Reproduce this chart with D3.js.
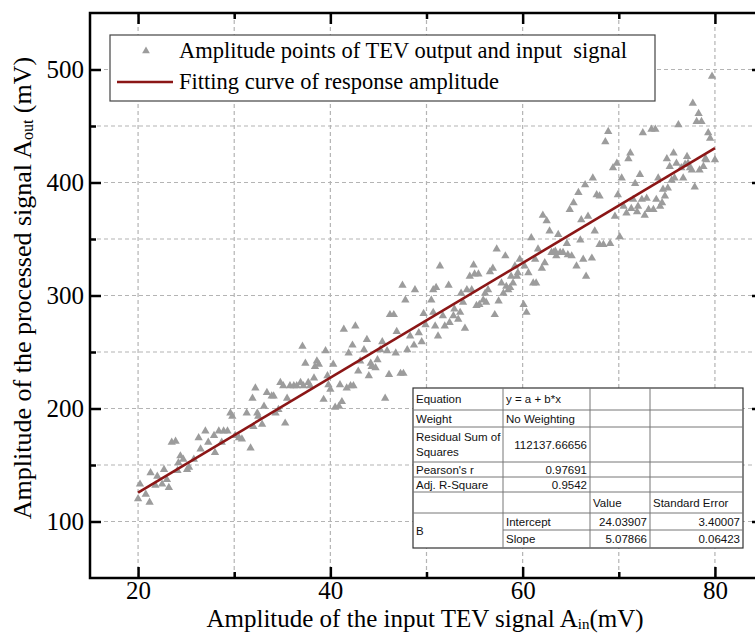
<!DOCTYPE html>
<html>
<head>
<meta charset="utf-8">
<script src="https://cdn.jsdelivr.net/npm/d3@7"></script>
<style>
  body { margin: 0; background: #fff; }
  svg { display: block; }
</style>
</head>
<body>
<svg width="755" height="633"></svg>
<script>
// input amplitude (mV) of each measured point
const ain = [
  20.2,21.3,20.0,20.8,21.2,22.0,22.7,21.8,22.5,23.2,23.0,23.5,23.9,24.4,24.2,24.7,25.1,24.1,25.3,25.8,
  26.3,26.5,27.0,27.3,27.9,28.0,28.4,28.9,29.3,28.7,29.6,29.8,30.1,30.5,30.8,31.3,31.7,32.0,32.4,32.2,
  31.9,32.5,32.9,33.1,33.4,33.9,34.1,34.3,34.6,34.8,35.1,35.3,35.5,35.8,36.2,36.5,36.9,37.1,37.2,37.4,
  37.7,37.9,38.3,38.4,38.6,38.8,39.3,39.5,39.7,39.8,40.0,40.3,40.5,40.9,41.0,41.2,41.4,41.7,41.9,42.1,
  42.4,42.6,42.3,42.9,43.1,43.5,43.8,44.0,44.2,44.3,44.7,44.9,45.2,45.4,45.7,45.9,46.1,46.2,46.6,46.8,
  46.9,47.3,47.5,47.6,47.8,48.0,48.3,48.7,48.8,49.2,49.5,49.7,49.9,
  50.7,51.0,51.4,52.3,50.7,50.5,50.9,51.2,51.7,51.9,52.4,52.8,52.9,53.3,53.5,53.6,53.8,54.0,54.2,54.5,
  54.7,54.9,55.0,55.4,55.2,55.5,55.9,56.1,56.2,56.4,56.6,56.9,57.1,57.3,57.5,57.8,58.0,58.2,58.3,58.5,
  58.7,58.8,59.0,59.2,59.4,59.5,59.7,60.1,60.2,60.4,60.6,60.9,61.1,61.3,61.4,61.6,62.0,62.1,62.3,62.5,
  62.8,63.0,63.2,63.4,63.5,63.7,63.9,64.2,64.6,64.7,64.9,65.1,65.3,65.6,65.8,66.0,66.1,66.3,66.5,66.6,
  66.8,67.2,67.3,67.5,67.7,68.0,68.0,68.4,68.6,68.9,69.1,69.4,69.6,69.8,69.9,70.1,70.3,70.5,70.8,71.0,
  71.2,71.3,71.5,71.7,71.9,72.0,72.2,72.4,72.5,72.7,72.9,73.1,73.4,73.8,73.6,73.9,74.1,74.3,74.5,74.6,
  74.8,75.0,75.1,75.3,75.5,75.7,75.8,76.0,76.2,76.5,76.7,76.9,77.1,77.2,77.4,77.6,77.7,77.9,78.1,78.3,
  78.4,78.6,78.8,79.0,79.1,79.3,79.5,79.7,80.0
];
// processed (output) amplitude (mV), same order
const aout = [
  133,143,120,124,117,140,146,132,133,130,137,170,171,158,152,155,146,145,148,155,
  174,164,180,170,176,161,180,180,180,170,196,193,176,174,173,196,165,184,196,218,
  209,193,186,202,214,211,211,196,199,223,220,187,209,220,220,220,223,255,220,240,
  223,220,227,237,242,239,208,251,229,221,217,239,201,202,221,206,270,218,249,220,
  220,273,256,233,242,252,261,229,240,237,236,243,252,259,209,251,230,283,283,249,
  268,231,309,231,296,252,264,256,305,267,259,284,274,
  305,307,326,309,285,296,273,264,282,273,276,282,288,279,285,302,294,271,305,317,
  305,327,319,319,291,292,296,302,294,305,321,324,283,341,295,311,302,335,308,305,
  307,317,311,326,317,320,332,292,326,285,320,351,311,332,311,341,324,371,329,366,
  357,338,338,339,335,354,338,338,346,336,376,335,382,326,391,349,367,332,398,317,
  370,333,404,357,389,388,345,345,436,445,346,413,370,417,389,352,404,379,373,421,
  426,377,385,399,374,379,407,385,444,371,386,376,447,447,376,385,404,379,382,394,
  388,421,395,414,402,426,404,417,451,413,404,416,423,417,413,411,470,396,454,461,
  411,454,414,421,420,444,439,494,420
];

const fitIntercept = 24.03907;
const fitSlope = 5.07866;
const fitRange = [20, 80];

const xTicks = [20, 40, 60, 80];
const xMinor = [30, 50, 70];
const xGrid = [20, 30, 40, 50, 60, 70, 80];
const yTicks = [100, 200, 300, 400, 500];
const yMinor = [150, 250, 350, 450];
const yGrid = [100, 150, 200, 250, 300, 350, 400, 450, 500];

const legendLabels = ["Amplitude points of TEV output and input  signal", "Fitting curve of response amplitude"];

const tableRows = [
  ["Equation", "y = a + b*x", "", ""],
  ["Weight", "No Weighting", "", ""],
  ["Residual Sum of|Squares", "112137.66656", "", ""],
  ["Pearson's r", "0.97691", "", ""],
  ["Adj. R-Square", "0.9542", "", ""],
  ["", "", "Value", "Standard Error"],
  ["B", "Intercept", "24.03907", "3.40007"],
  ["", "Slope", "5.07866", "0.06423"]
];

const svg = d3.select("svg");
const serif = "'Liberation Serif', 'Times New Roman', serif";
const sans = "'Liberation Sans', Arial, sans-serif";

const pLeft = 90, pRight = 763, pTop = 13, pBottom = 578;
const x = d3.scaleLinear().domain([15, 85]).range([pLeft, pRight]);
const y = d3.scaleLinear().domain([50, 550]).range([pBottom, pTop]);

const plot = svg.append("g");

// dashed grid
plot.append("g").selectAll("line").data(xGrid).enter().append("line")
  .attr("x1", d => x(d)).attr("x2", d => x(d))
  .attr("y1", pTop).attr("y2", pBottom)
  .attr("stroke", "#b4b4b4").attr("stroke-width", 1.2).attr("stroke-dasharray", "4,3");
plot.append("g").selectAll("line").data(yGrid).enter().append("line")
  .attr("x1", pLeft).attr("x2", pRight)
  .attr("y1", d => y(d)).attr("y2", d => y(d))
  .attr("stroke", "#b4b4b4").attr("stroke-width", 1.2).attr("stroke-dasharray", "4,3");

// points
const points = ain.map((a, i) => ({ a: a, b: aout[i] }));
const tri = d3.symbol().type(d3.symbolTriangle).size(30);
plot.append("g").selectAll("path").data(points).enter().append("path")
  .attr("d", tri)
  .attr("transform", d => `translate(${x(d.a)},${y(d.b)})`)
  .attr("fill", "#9c9c9c");

// fitted line
const fitLine = d3.line().x(d => x(d)).y(d => y(fitIntercept + fitSlope * d));
plot.append("path").datum(fitRange)
  .attr("d", fitLine)
  .attr("fill", "none")
  .attr("stroke", "#8b1616")
  .attr("stroke-width", 2.6);

// axes
const styleAxis = g => {
  g.select(".domain").remove();
  g.selectAll(".tick line").attr("stroke", "#000").attr("stroke-width", 2.5);
  g.selectAll("text").attr("font-family", serif).attr("font-size", 25).attr("fill", "#000");
};
svg.append("g").attr("transform", `translate(0,${pBottom})`)
  .call(d3.axisBottom(x).tickValues(xTicks).tickSizeInner(-11).tickSizeOuter(0).tickPadding(3.5).tickFormat(d3.format("d")))
  .call(styleAxis);
svg.append("g").attr("transform", `translate(0,${pBottom})`)
  .call(d3.axisBottom(x).tickValues(xMinor).tickSizeInner(-6).tickSizeOuter(0).tickFormat(""))
  .call(styleAxis);
svg.append("g").attr("transform", `translate(0,${pTop})`)
  .call(d3.axisTop(x).tickValues(xTicks).tickSizeInner(-11).tickSizeOuter(0).tickFormat(""))
  .call(styleAxis);
svg.append("g").attr("transform", `translate(0,${pTop})`)
  .call(d3.axisTop(x).tickValues(xMinor).tickSizeInner(-6).tickSizeOuter(0).tickFormat(""))
  .call(styleAxis);
svg.append("g").attr("transform", `translate(${pLeft},0)`)
  .call(d3.axisLeft(y).tickValues(yTicks).tickSizeInner(-11).tickSizeOuter(0).tickPadding(6).tickFormat(d3.format("d")))
  .call(styleAxis);
svg.append("g").attr("transform", `translate(${pLeft},0)`)
  .call(d3.axisLeft(y).tickValues(yMinor).tickSizeInner(-6).tickSizeOuter(0).tickFormat(""))
  .call(styleAxis);
svg.append("g").attr("transform", `translate(${pRight},0)`)
  .call(d3.axisRight(y).tickValues(yTicks).tickSizeInner(-11).tickSizeOuter(0).tickFormat(""))
  .call(styleAxis);

// frame
svg.append("rect")
  .attr("x", pLeft).attr("y", pTop)
  .attr("width", pRight - pLeft).attr("height", pBottom - pTop)
  .attr("fill", "none").attr("stroke", "#000").attr("stroke-width", 2.5);

// axis titles
const xt = svg.append("text")
  .attr("x", 425).attr("y", 627)
  .attr("text-anchor", "middle")
  .attr("font-family", serif).attr("font-size", 25).attr("fill", "#000");
xt.append("tspan").text("Amplitude of the input TEV signal A");
xt.append("tspan").attr("font-size", 15).attr("dy", 1.5).text("in");
xt.append("tspan").attr("dy", -1.5).text("(mV)");

const yt = svg.append("text")
  .attr("transform", "translate(31,288) rotate(-90)")
  .attr("text-anchor", "middle")
  .attr("font-family", serif).attr("font-size", 26).attr("fill", "#000");
yt.append("tspan").text("Amplitude of the processed signal A");
yt.append("tspan").attr("font-size", 16).attr("dy", 2).text("out");
yt.append("tspan").attr("dy", -2).text(" (mV)");

// legend
const legend = svg.append("g");
legend.append("rect")
  .attr("x", 110).attr("y", 35).attr("width", 545).attr("height", 66)
  .attr("fill", "#fff").attr("stroke", "#444").attr("stroke-width", 1.2);
const legItems = legend.selectAll(".legends").data(legendLabels).enter().append("g")
  .attr("class", "legends")
  .attr("transform", (d, i) => `translate(0,${51 + i * 31})`);
legItems.filter((d, i) => i === 0).append("path")
  .attr("d", d3.symbol().type(d3.symbolTriangle).size(26))
  .attr("transform", "translate(146,0)")
  .attr("fill", "#9c9c9c");
legItems.filter((d, i) => i === 1).append("line")
  .attr("x1", 117).attr("x2", 173)
  .attr("stroke", "#8b1616").attr("stroke-width", 2.6);
legItems.append("text")
  .attr("x", 179).attr("y", 7)
  .attr("font-family", serif).attr("font-size", 22.5).attr("fill", "#000")
  .style("white-space", "pre")
  .text(d => d);

// fit statistics table
const colX = [413, 503, 590, 650, 743];
const rowY = [388, 410, 427, 462, 477, 492, 513, 530, 548];
const table = svg.append("g");
table.append("rect")
  .attr("x", colX[0]).attr("y", rowY[0])
  .attr("width", colX[4] - colX[0]).attr("height", rowY[8] - rowY[0])
  .attr("fill", "#fff").attr("stroke", "#333").attr("stroke-width", 1.2);
// horizontal rules
for (let r = 1; r < 8; r++) {
  table.append("line")
    .attr("x1", r === 7 ? colX[1] : colX[0]).attr("x2", colX[4])
    .attr("y1", rowY[r]).attr("y2", rowY[r])
    .attr("stroke", "#777").attr("stroke-width", 1);
}
// vertical rules
for (let c = 1; c < 4; c++) {
  table.append("line")
    .attr("x1", colX[c]).attr("x2", colX[c])
    .attr("y1", rowY[0]).attr("y2", rowY[8])
    .attr("stroke", "#777").attr("stroke-width", 1);
}
tableRows.forEach((row, r) => {
  row.forEach((cell, c) => {
    if (!cell) return;
    const numeric = /^[0-9.]+$/.test(cell);
    let cy = (rowY[r] + rowY[r + 1]) / 2;
    if (r === 6 && c === 0) cy = (rowY[6] + rowY[8]) / 2;
    const lines = cell.split("|");
    const t = table.append("text")
      .attr("font-family", sans).attr("font-size", 11.5).attr("fill", "#111")
      .attr("text-anchor", numeric ? "end" : "start")
      .attr("x", numeric ? colX[c + 1] - 3 : colX[c] + 3);
    if (lines.length > 1) {
      t.attr("y", cy - 8 + 4);
      lines.forEach((ln, k) => t.append("tspan")
        .attr("x", colX[c] + 3).attr("dy", k === 0 ? 0 : 15).text(ln));
    } else {
      t.attr("y", cy + 4).text(cell);
    }
  });
});
</script>
</body>
</html>
